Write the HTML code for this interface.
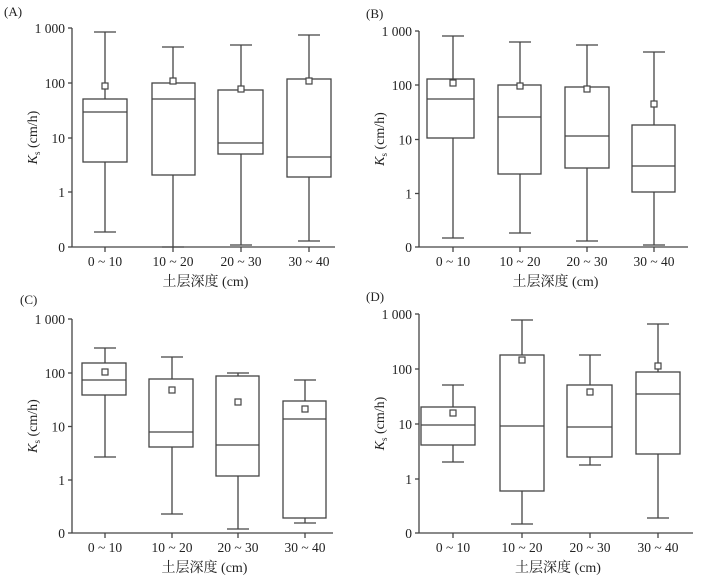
<!DOCTYPE html>
<html><head><meta charset="utf-8"><style>
html,body{margin:0;padding:0;background:#fff;width:703px;height:578px;overflow:hidden}
svg text{font-family:"Liberation Serif","Noto Serif CJK SC",serif;fill:#222}
</style></head><body>
<svg id="s" width="703" height="578" xmlns="http://www.w3.org/2000/svg"></svg>
<script>
const P=[
 {lab:"(A)",lx:4,ly:16,ax:72,xe:335,t:[28,83,138,192,247],cx:[105,173,241,309],
  b:[[83,127,32,99,112,162,232,86],[152,195,47,83,99,175,247,81],[218,263,45,90,143,154,245,89],[287,331,35,79,157,177,241,81]]},
 {lab:"(B)",lx:366,ly:18,ax:419,xe:688,t:[31,85,139.5,193.5,247],cx:[453,520,587,654],
  b:[[427,474,36,79,99,138,238,83],[498,541,42,85,117,174,233,86],[565,609,45,87,136,168,241,89],[632,675,52,125,166,192,245,104]]},
 {lab:"(C)",lx:20,ly:304,ax:72,xe:333,t:[319,373,426.5,480,533],cx:[105,172,238,305],
  b:[[82,126,348,363,380,395,457,372],[149,193,357,379,432,447,514,390],[216,259,373,376,445,476,529,402],[283,326,380,401,419,518,523,409]]},
 {lab:"(D)",lx:366,ly:301,ax:419,xe:693,t:[314,369,424,479,533],cx:[453,522,590,658],
  b:[[421,475,385,407,425,445,462,413],[500,544,320,355,426,491,524,360],[567,612,355,385,427,457,465,392],[636,680,324,372,394,454,518,366]]}
];
const TL=["1 000","100","10","1","0"],CL=["0 ~ 10","10 ~ 20","20 ~ 30","30 ~ 40"];
let h="";const st='stroke="#444" stroke-width="1.3" fill="none"';
for(const p of P){
 const y0=p.t[4];
 h+=`<text x="${p.lx}" y="${p.ly}" font-size="13">${p.lab}</text>`;
 h+=`<line x1="${p.ax}" y1="${p.t[0]}" x2="${p.ax}" y2="${y0}" ${st}/><line x1="${p.ax}" y1="${y0}" x2="${p.xe}" y2="${y0}" ${st}/>`;
 p.t.forEach((y,i)=>{h+=`<line x1="${p.ax-4}" y1="${y}" x2="${p.ax}" y2="${y}" ${st}/><text x="${p.ax-7}" y="${y+5}" font-size="13.5" text-anchor="end">${TL[i]}</text>`;});
 p.cx.forEach((x,i)=>{h+=`<line x1="${x}" y1="${y0}" x2="${x}" y2="${y0+5}" ${st}/><text x="${x}" y="${y0+19}" font-size="13.5" text-anchor="middle">${CL[i]}</text>`;});
 const mx=(p.ax+p.xe)/2+2;
 h+=`<text x="${mx}" y="${y0+39}" font-size="14" text-anchor="middle">土层深度 (cm)</text>`;
 const ym=(p.t[0]+y0)/2;
 h+=`<text transform="translate(${p.ax-35},${ym}) rotate(-90)" font-size="14" text-anchor="middle"><tspan font-style="italic">K</tspan><tspan font-size="9" dy="3">s</tspan><tspan dy="-3"> (cm/h)</tspan></text>`;
 p.b.forEach((b,i)=>{const x=p.cx[i],[l,r,wt,bt,md,bb,wb,mn]=b;
  h+=`<line x1="${x}" y1="${wt}" x2="${x}" y2="${bt}" ${st}/><line x1="${x}" y1="${bb}" x2="${x}" y2="${wb}" ${st}/>`;
  h+=`<line x1="${x-11}" y1="${wt}" x2="${x+11}" y2="${wt}" ${st}/><line x1="${x-11}" y1="${wb}" x2="${x+11}" y2="${wb}" ${st}/>`;
  h+=`<rect x="${l}" y="${bt}" width="${r-l}" height="${bb-bt}" ${st}/><line x1="${l}" y1="${md}" x2="${r}" y2="${md}" ${st}/>`;
  h+=`<rect x="${x-3}" y="${mn-3}" width="6" height="6" fill="#fff" stroke="#444" stroke-width="1.2"/>`;
 });
}
document.getElementById("s").innerHTML=h;
</script>
</body></html>
